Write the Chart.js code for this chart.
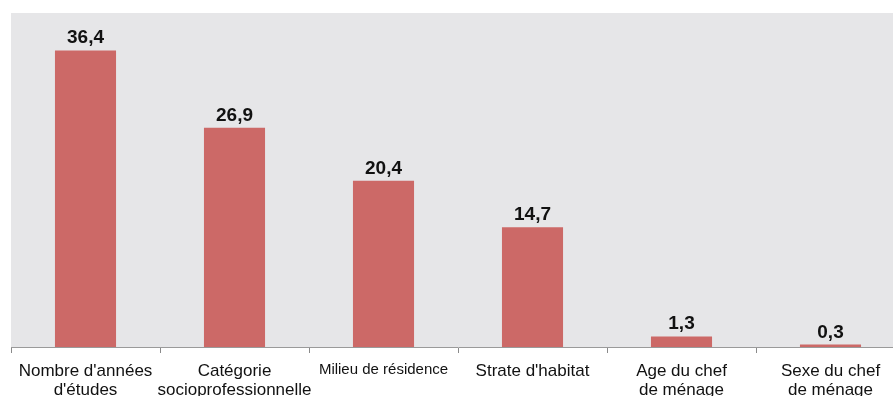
<!DOCTYPE html>
<html>
<head>
<meta charset="utf-8">
<script src="https://cdn.jsdelivr.net/npm/chart.js@4"></script>
<style>
  html, body { margin: 0; padding: 0; background: #fff; overflow: hidden; }
  #wrap { position: relative; width: 905px; height: 396px; }
</style>
</head>
<body>
<div id="wrap"><canvas id="chart"></canvas></div>
<script>
// categories et valeurs (%)
const categories = [
  ["Nombre d'années", "d'études"],
  ["Catégorie", "socioprofessionnelle"],
  "Milieu de résidence",
  "Strate d'habitat",
  ["Age du chef", "de ménage"],
  ["Sexe du chef", "de ménage"]
];
const values = [36.4, 26.9, 20.4, 14.7, 1.3, 0.3];
const valueLabels = ['36,4', '26,9', '20,4', '14,7', '1,3', '0,3'];

const FONT = "'Liberation Sans', Arial, Helvetica, sans-serif";

// fond gris de la zone du graphique
const plotBg = {
  id: 'plotBg',
  beforeDraw(chart){
    const {ctx, chartArea: a} = chart;
    ctx.save();
    ctx.fillStyle = '#e6e6e8';
    ctx.fillRect(a.left, a.top, a.right - a.left, a.bottom - a.top);
    ctx.restore();
  }
};

// étiquettes de valeur au-dessus des barres
const barLabels = {
  id: 'barLabels',
  afterDatasetsDraw(chart){
    const ctx = chart.ctx;
    const meta = chart.getDatasetMeta(0);
    ctx.save();
    ctx.font = 'bold 19px ' + FONT;
    ctx.fillStyle = '#111';
    ctx.textAlign = 'center';
    ctx.textBaseline = 'alphabetic';
    meta.data.forEach((bar, i) => {
      ctx.fillText(valueLabels[i], bar.x, bar.y - 7);
    });
    ctx.restore();
  }
};

new Chart(document.getElementById('chart'), {
  type: 'bar',
  data: {
    labels: categories,
    datasets: [{
      data: values,
      backgroundColor: '#cc6967',
      barPercentage: 0.82,
      categoryPercentage: 0.5
    }]
  },
  options: {
    responsive: true,
    maintainAspectRatio: false,
    animation: false,
    layout: { padding: { left: 11, top: 13, right: 0, bottom: 0 } },
    plugins: { legend: { display: false }, tooltip: { enabled: false } },
    scales: {
      y: { display: false, min: 0, max: 41 },
      x: {
        grid: {
          offset: true,
          drawOnChartArea: false,
          drawTicks: true,
          tickLength: 6,
          color: '#8a8a8a'
        },
        border: { color: '#9a9a9a', width: 1 },
        ticks: {
          color: '#111',
          padding: 9,
          maxRotation: 0,
          autoSkip: false,
          font: (c) => ({ family: FONT, size: c.index === 2 ? 15 : 17, lineHeight: 1.1 })
        },
        afterFit(s){ s.height = 49; }
      }
    }
  },
  plugins: [plotBg, barLabels]
});
</script>
</body>
</html>
